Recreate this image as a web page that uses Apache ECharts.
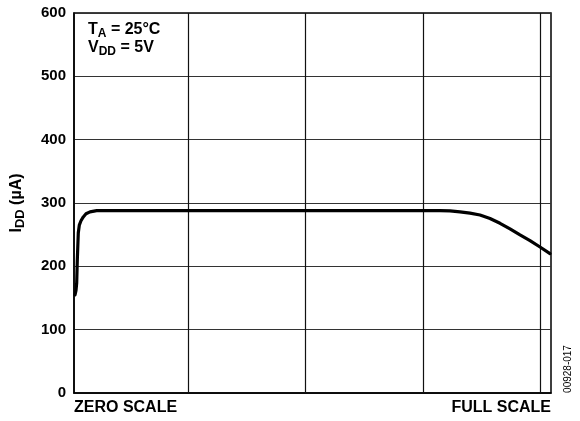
<!DOCTYPE html>
<html>
<head>
<meta charset="utf-8">
<script src="https://cdn.jsdelivr.net/npm/echarts@6/dist/echarts.min.js"></script>
<style>
    html, body { margin: 0; padding: 0; background: #fff; }
    #chart { width: 580px; height: 421px; }
</style>
</head>
<body>
<div id="chart"></div>
<script>
// x runs from zero scale (0) to full scale (477), in code steps
var xMax = 477;
var xGridLines = [114, 231.7, 349.3, 466.3];
var xTickLabels = ['ZERO SCALE', 'FULL SCALE'];
var yTicks = [0, 100, 200, 300, 400, 500, 600];

var curveX = [1, 2, 2.7, 3.3, 4.3, 5.3, 7, 9.3, 12, 16, 22.7, 36, 200, 366, 376, 386, 396, 406, 416, 426, 436, 446, 456, 466, 476];
var curveY = [155, 162, 174, 210, 253, 265, 272, 278, 283, 286, 288, 288, 288, 288, 287.6, 286, 284, 281, 275.5, 268, 259, 249.5, 240.5, 230.5, 220];

var curveData = curveX.map(function (x, i) { return [x, curveY[i]]; });

var font = '"Liberation Sans", Arial, sans-serif';

var myChart = echarts.init(document.getElementById('chart'));
var option = {
    animation: false,
    grid: {
        left: 74,
        right: 29,
        top: 13,
        bottom: 28,
        outerBoundsMode: 'none',
        containLabel: false,
        show: true,
        borderColor: '#000',
        borderWidth: 1.5
    },
    xAxis: {
        type: 'value',
        min: 0,
        max: xMax,
        interval: xMax,
        axisLine: { show: true, lineStyle: { color: '#000', width: 1.5 } },
        axisTick: { show: false },
        splitLine: { show: false },
        axisLabel: {
            margin: 7,
            color: '#000',
            fontFamily: font,
            fontWeight: 'bold',
            fontSize: 16,
            alignMinLabel: 'left',
            alignMaxLabel: 'right',
            formatter: function (v) { return v === 0 ? xTickLabels[0] : xTickLabels[1]; }
        }
    },
    yAxis: {
        type: 'value',
        min: yTicks[0],
        max: yTicks[yTicks.length - 1],
        interval: 100,
        name: '{b|I}{s|DD}{b| (µA)}',
        nameLocation: 'middle',
        nameGap: 47,
        nameTextStyle: {
            rich: {
                b: { fontFamily: font, fontWeight: 'bold', fontSize: 16, color: '#000' },
                s: { fontFamily: font, fontWeight: 'bold', fontSize: 13, color: '#000', padding: [8, 0, 0, 0] }
            }
        },
        axisLine: { show: true, lineStyle: { color: '#000', width: 1.5 } },
        axisTick: { show: false },
        splitLine: { show: true, lineStyle: { color: '#333', width: 1 } },
        axisLabel: {
            margin: 8,
            color: '#000',
            fontFamily: font,
            fontWeight: 'bold',
            fontSize: 15
        }
    },
    series: [
        {
            type: 'line',
            data: curveData,
            smooth: false,
            showSymbol: false,
            lineStyle: { color: '#000', width: 3.2, join: 'round', cap: 'round' },
            markLine: {
                silent: true,
                symbol: 'none',
                label: { show: false },
                lineStyle: { color: '#111', width: 1.2, type: 'solid' },
                data: xGridLines.map(function (x) { return { xAxis: x }; })
            },
            z: 5
        }
    ],
    graphic: [
        {
            type: 'text',
            left: 88,
            top: 20,
            style: {
                text: '{b|T}{s|A}{b| = 25°C}\n{b|V}{s|DD}{b| = 5V}',
                rich: {
                    b: { fontFamily: font, fontWeight: 'bold', fontSize: 16, fill: '#000', lineHeight: 18 },
                    s: { fontFamily: font, fontWeight: 'bold', fontSize: 12, fill: '#000', padding: [8, 0, 0, 0], lineHeight: 18 }
                }
            }
        },
        {
            type: 'text',
            x: 568,
            y: 369,
            rotation: Math.PI / 2,
            style: {
                text: '00928-017',
                fontFamily: font,
                fontSize: 10,
                fill: '#000',
                align: 'center',
                verticalAlign: 'middle'
            }
        }
    ]
};
myChart.setOption(option, true);
</script>
</body>
</html>
